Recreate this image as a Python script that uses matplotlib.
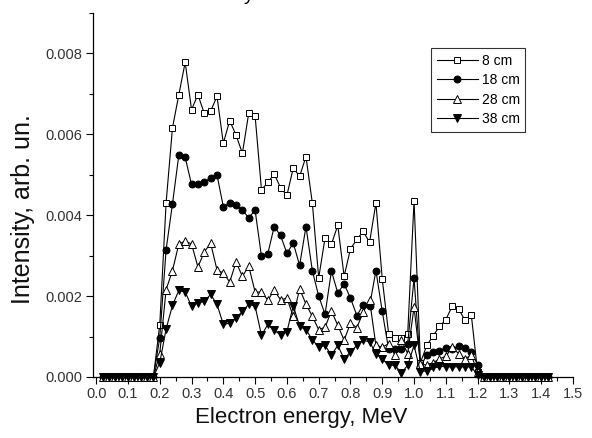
import numpy as np
import matplotlib
matplotlib.use("Agg")
import matplotlib.pyplot as plt
from matplotlib.ticker import MultipleLocator, FormatStrFormatter

plt.rcParams['font.family'] = ['Liberation Sans', 'DejaVu Sans']

# electron energy grid, MeV (0.02 ... 1.42)
energy = np.round(np.arange(1, 72) * 0.02, 2)

# intensity in units of 1e-3 arb. un., one value per energy point
i8 = [0, 0, 0, 0, 0, 0, 0, 0, 0,
      1.29, 4.31, 6.16, 6.98, 7.78, 6.61, 6.98, 6.52, 6.57, 6.94,
      5.78, 6.34, 5.98, 5.53, 6.53, 6.45, 4.63, 4.81, 5.02, 4.68,
      4.49, 5.17, 4.96, 5.45, 4.30, 2.45, 3.44, 3.28, 3.75, 2.49,
      3.17, 3.40, 3.60, 3.33, 4.30, 2.42, 1.07, 0.97, 0.97, 1.07,
      4.36, 0.35, 0.78, 1.02, 1.25, 1.42, 1.75, 1.69, 1.40, 1.54,
      0.12,
      0, 0, 0, 0, 0, 0, 0, 0, 0, 0, 0]

i18 = [0, 0, 0, 0, 0, 0, 0, 0, 0,
       0.97, 3.15, 4.28, 5.49, 5.43, 4.76, 4.77, 4.83, 4.91, 5.00,
       4.21, 4.30, 4.26, 4.12, 3.94, 4.12, 2.98, 3.05, 3.72, 3.50,
       3.06, 3.31, 2.76, 3.72, 2.63, 2.00, 1.55, 2.62, 2.08, 2.30,
       1.95, 1.52, 1.78, 1.75, 2.63, 1.62, 0.68, 0.68, 0.68, 0.82,
       2.44, 0.25, 0.55, 0.62, 0.65, 0.72, 0.68, 0.76, 0.72, 0.62,
       0.30,
       0, 0, 0, 0, 0, 0, 0, 0, 0, 0, 0]

i28 = [0, 0, 0, 0, 0, 0, 0, 0, 0,
       0.58, 2.16, 2.63, 3.29, 3.36, 3.29, 2.72, 3.09, 3.31, 2.65,
       2.57, 2.35, 2.84, 2.49, 2.74, 2.10, 2.10, 1.90, 2.14, 1.91,
       1.95, 1.50, 2.18, 1.80, 1.50, 1.17, 1.23, 1.63, 1.28, 0.91,
       1.33, 1.22, 1.60, 1.91, 0.78, 0.74, 0.82, 0.54, 0.91, 0.58,
       1.73, 0.33, 0.29, 0.35, 0.45, 0.51, 0.73, 0.58, 0.45, 0.54,
       0.12,
       0, 0, 0, 0, 0, 0, 0, 0, 0, 0, 0]

i38 = [0, 0, 0, 0, 0, 0, 0, 0, 0,
       0.35, 1.19, 1.77, 2.14, 2.10, 1.75, 1.83, 1.87, 2.04, 1.80,
       1.30, 1.33, 1.46, 1.62, 1.80, 1.75, 1.03, 1.30, 1.15, 1.05,
       1.12, 1.76, 1.25, 1.17, 0.92, 0.74, 0.78, 0.54, 0.78, 0.45,
       0.62, 0.78, 0.91, 0.87, 0.58, 0.45, 0.29, 0.29, 0.10, 0.29,
       0.78, 0.12, 0.16, 0.25, 0.27, 0.25, 0.25, 0.25, 0.25, 0.25,
       0.05,
       0, 0, 0, 0, 0, 0, 0, 0, 0, 0, 0]

labels = ["8 cm", "18 cm", "28 cm", "38 cm"]


fig = plt.figure(figsize=(5.92, 4.38), dpi=100)
ax = fig.add_axes([93 / 592, 1 - 377 / 438, 480 / 592, 364 / 438])

styles = [
    dict(marker='s', mfc='white', ms=4.5),
    dict(marker='o', mfc='black', ms=5.0),
    dict(marker='^', mfc='white', ms=5.5),
    dict(marker='v', mfc='black', ms=5.5),
]
for vals, lab, st in zip([i8, i18, i28, i38], labels, styles):
    ax.plot(energy, np.array(vals) * 1e-3, color='black', lw=0.8,
            mec='black', mew=0.7, label=lab, clip_on=False, **st)

ax.set_xlim(-0.01, 1.5)
ax.set_ylim(0, 0.009)
ax.spines['top'].set_visible(False)
ax.spines['right'].set_visible(False)
ax.spines['left'].set_linewidth(0.9)
ax.spines['bottom'].set_linewidth(0.9)

ax.xaxis.set_major_locator(MultipleLocator(0.1))
ax.xaxis.set_minor_locator(MultipleLocator(0.05))
ax.yaxis.set_major_locator(MultipleLocator(0.002))
ax.yaxis.set_minor_locator(MultipleLocator(0.001))
ax.xaxis.set_major_formatter(FormatStrFormatter('%.1f'))
ax.yaxis.set_major_formatter(FormatStrFormatter('%.3f'))
ax.tick_params(which='major', direction='out', length=5, width=0.8,
               labelsize=10.5, colors='black', pad=2.5)
ax.tick_params(which='minor', direction='out', length=2.8, width=0.8)
for t in ax.get_xticklabels() + ax.get_yticklabels():
    t.set_color('#333333')

ax.set_xlabel("Electron energy, MeV", fontsize=16, color='#111111')
ax.set_ylabel("Intensity, arb. un.", fontsize=18, color='#111111')
ax.xaxis.set_label_coords(0.433, -0.083)
ax.yaxis.set_label_coords(-0.121, 0.46)

leg = ax.legend(loc='upper left', bbox_to_anchor=(431 / 592, 1 - 48 / 438),
                bbox_transform=fig.transFigure, fontsize=10, frameon=True,
                fancybox=False, handlelength=3.0, handletextpad=0.25,
                labelspacing=0.4, borderpad=0.4, borderaxespad=0)
leg.get_frame().set_edgecolor('black')
leg.get_frame().set_linewidth(0.8)

# clipped title remnant at the very top
fig.text(0.42, 1.0, "y", fontsize=14, va='baseline', ha='center')

fig.savefig("out.png", dpi=100)
